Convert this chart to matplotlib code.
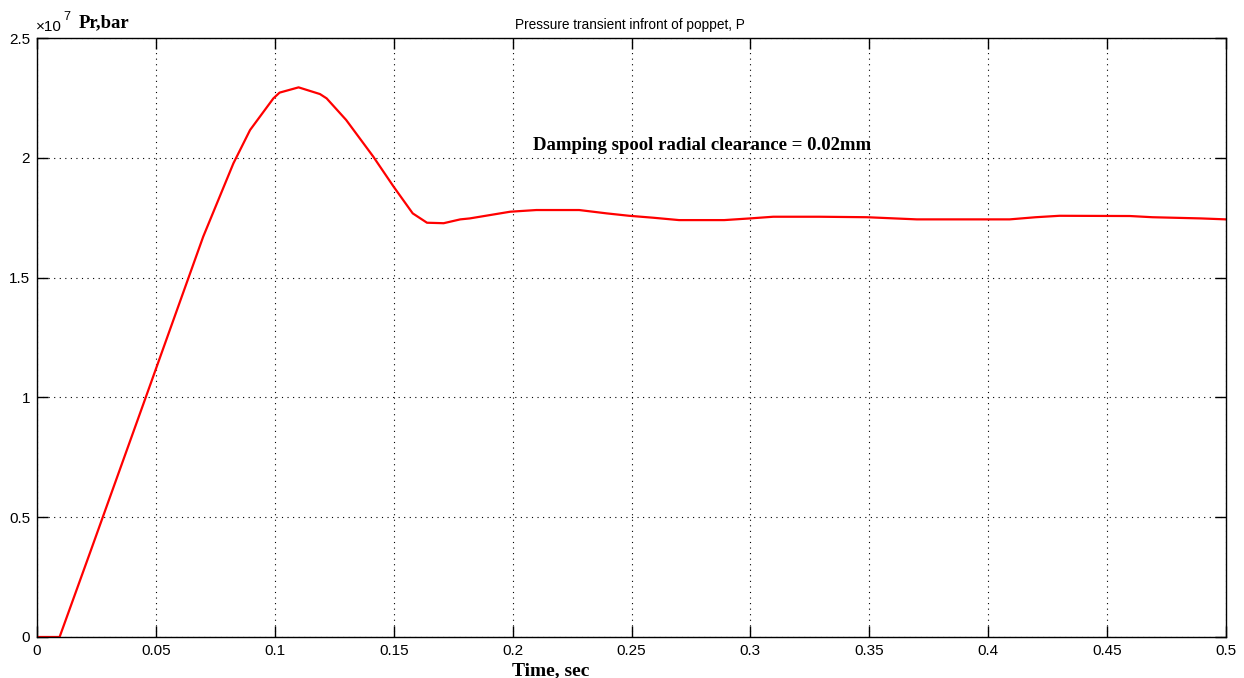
import matplotlib.pyplot as plt

# time (s) and pressure (x1e7)
t = [0.0, 0.0095, 0.0227, 0.045, 0.0699, 0.0826, 0.0896, 0.0994, 0.102, 0.110,
     0.119, 0.1218, 0.130, 0.1414, 0.150, 0.158, 0.164, 0.171, 0.178, 0.182,
     0.199, 0.210, 0.228, 0.2396, 0.249, 0.259, 0.270, 0.289, 0.2998, 0.3096,
     0.329, 0.349, 0.370, 0.409, 0.420, 0.430, 0.4596, 0.469, 0.4895, 0.5]
p = [0.0, 0.0, 0.363, 0.98, 1.671, 1.977, 2.116, 2.248, 2.272, 2.294,
     2.266, 2.248, 2.158, 2.005, 1.879, 1.768, 1.729, 1.727, 1.743, 1.747,
     1.775, 1.782, 1.782, 1.768, 1.758, 1.750, 1.740, 1.740, 1.747, 1.754,
     1.754, 1.752, 1.743, 1.743, 1.752, 1.758, 1.757, 1.752, 1.747, 1.743]

xticks = [0, 0.05, 0.1, 0.15, 0.2, 0.25, 0.3, 0.35, 0.4, 0.45, 0.5]
xlabels = ["0", "0.05", "0.1", "0.15", "0.2", "0.25", "0.3", "0.35", "0.4", "0.45", "0.5"]
yticks = [0, 0.5, 1, 1.5, 2, 2.5]
ylabels = ["0", "0.5", "1", "1.5", "2", "2.5"]

plt.rcParams['font.family'] = ['Liberation Sans', 'DejaVu Sans']

fig = plt.figure(figsize=(12.44, 6.78), dpi=100)
ax = fig.add_axes([37/1244, 1 - 637/678, (1226 - 37)/1244, (637 - 38)/678])

ax.plot(t, p, color='red', lw=1.6)

ax.set_xlim(0, 0.5)
ax.set_ylim(0, 2.5)
ax.set_xticks(xticks)
ax.set_xticklabels(xlabels)
ax.set_yticks(yticks)
ax.set_yticklabels(ylabels)
ax.tick_params(direction='in', length=8, width=1, labelsize=11, top=True, right=True, pad=5)
ax.grid(True, color='black', linestyle=(0, (1, 4)), linewidth=0.8)
for s in ax.spines.values():
    s.set_linewidth(1.0)

fig.text(630/1244, 1 - 29/678, "Pressure transient infront of poppet, P", fontsize=9.8,
         ha='center', va='baseline')
fig.text(36/1244, 1 - 31/678, "\u00d710", fontsize=11, ha='left', va='baseline')
fig.text(63/1244, 1 - 20/678, "7", fontsize=9, ha='left', va='baseline')
fig.text(79/1244, 1 - 27/678, "Pr,bar", fontsize=13.4, fontweight='bold',
         family='Liberation Serif', ha='left', va='baseline')
ax.text(0.2795, 2.053, "Damping spool radial clearance = 0.02mm", fontsize=13.5,
        fontweight='bold', family='Liberation Serif', ha='center', va='center')
fig.text(551/1244, 1 - 662/678, "Time, sec", fontsize=14, fontweight='bold',
         family='Liberation Serif', ha='center', va='top')

fig.savefig("out.png", dpi=100)
